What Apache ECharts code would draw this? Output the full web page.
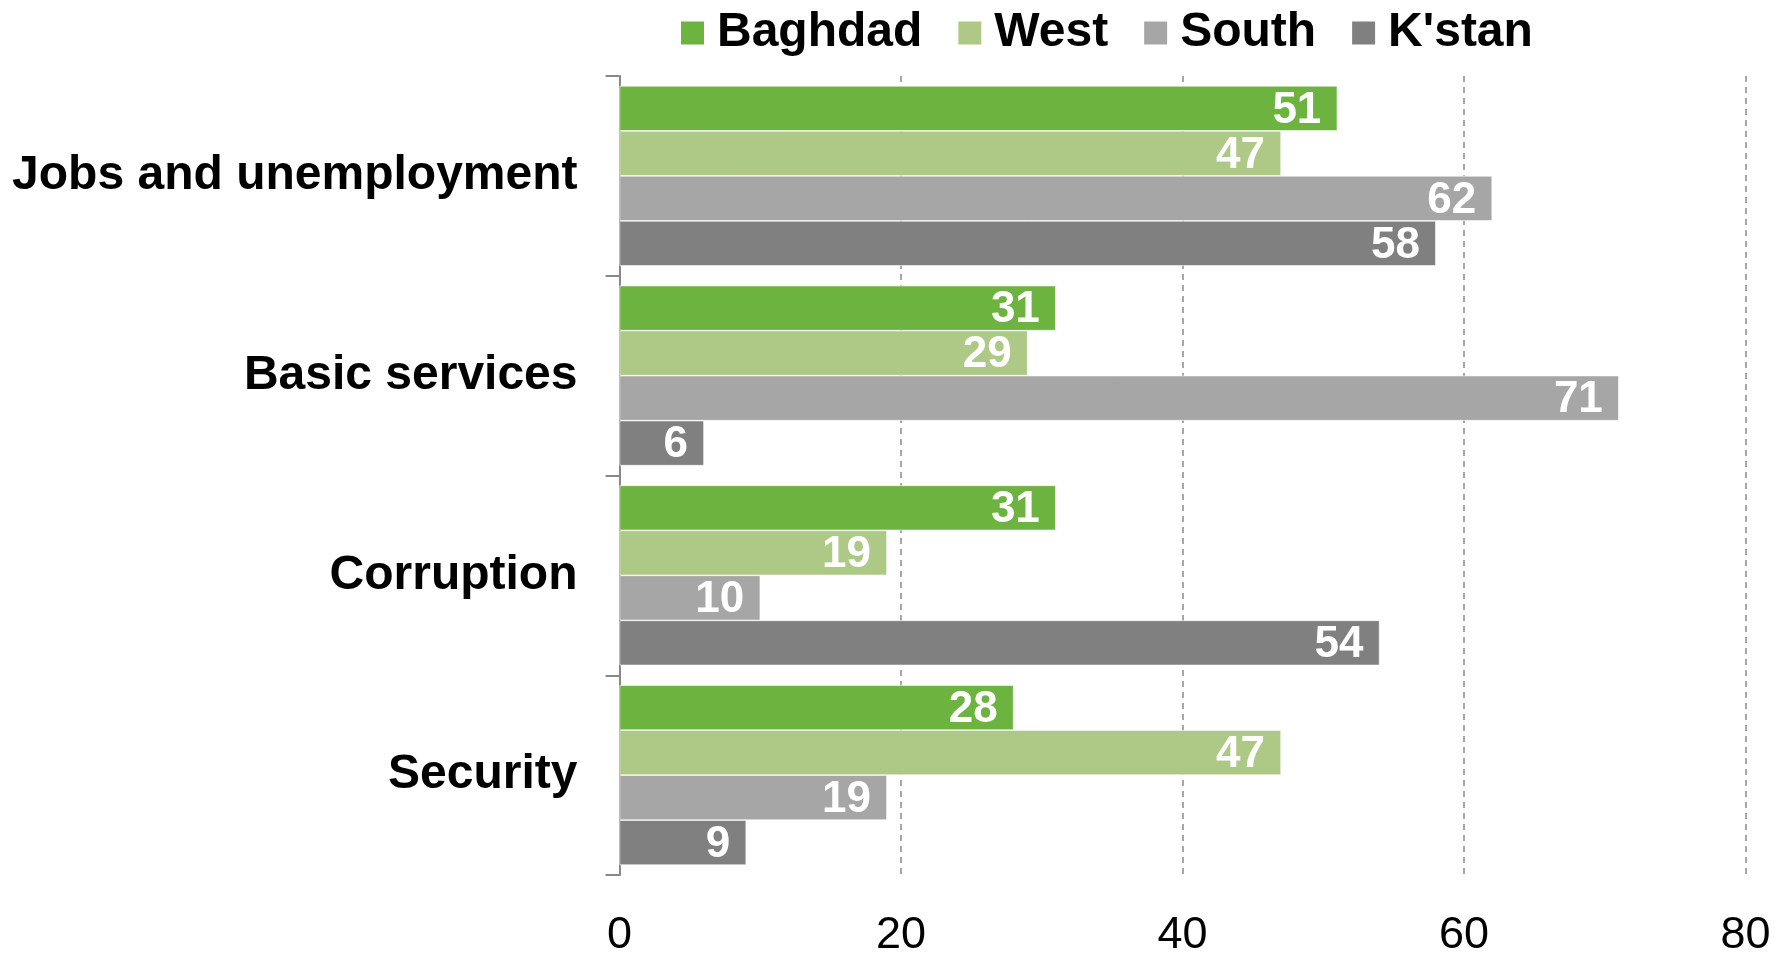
<!DOCTYPE html>
<html>
<head>
<meta charset="utf-8">
<script src="https://cdn.jsdelivr.net/npm/echarts@6/dist/echarts.min.js"></script>
<style>
  html, body { margin: 0; padding: 0; background: #fff; }
  #chart { width: 1789px; height: 958px; }
</style>
</head>
<body>
<div id="chart"></div>
<script>
// categories, top to bottom
var categories = ["Jobs and unemployment", "Basic services", "Corruption", "Security"];
var regions = ["Baghdad", "West", "South", "K'stan"];
var baghdad = [51, 31, 31, 28];
var west = [47, 29, 19, 47];
var south = [62, 71, 10, 19];
var kstan = [58, 6, 54, 9];
var xTicks = [0, 20, 40, 60, 80];

var colors = ["#6db33f", "#aec886", "#a6a6a6", "#808080"];
var font = "'Liberation Sans', Arial, sans-serif";

function barSeries(name, values, color) {
  return {
    name: name,
    type: "bar",
    data: values,
    barWidth: 45,
    barGap: "0%",
    itemStyle: { color: color, borderColor: "#ffffff", borderWidth: 0.6 },
    label: {
      show: true,
      position: "insideRight",
      distance: 16,
      offset: [0, 2],
      color: "#ffffff",
      fontFamily: font,
      fontWeight: "bold",
      fontSize: 44
    },
    emphasis: { disabled: true }
  };
}

var myChart = echarts.init(document.getElementById("chart"));
myChart.setOption({
  animation: false,
  legend: {
    data: regions,
    left: 674,
    top: 4,
    itemWidth: 25,
    itemHeight: 25,
    itemGap: 34,
    icon: "rect",
    textStyle: {
      fontFamily: font,
      fontWeight: "bold",
      fontSize: 48,
      color: "#000",
      padding: [0, 0, 0, 7]
    }
  },
  grid: {
    left: 619.5,
    right: 43.5,
    top: 76,
    bottom: 81
  },
  xAxis: {
    type: "value",
    min: xTicks[0],
    max: xTicks[xTicks.length - 1],
    interval: 20,
    axisLine: { show: false },
    axisTick: { show: false },
    splitLine: {
      show: true,
      lineStyle: { color: "#8a8a8a", type: [6, 5], width: 1.5 }
    },
    axisLabel: {
      color: "#000",
      fontFamily: font,
      fontSize: 45,
      margin: 38
    }
  },
  yAxis: {
    type: "category",
    data: categories,
    inverse: true,
    axisLine: { show: true, lineStyle: { color: "#898989", width: 2 } },
    axisTick: { show: true, length: 14, lineStyle: { color: "#898989", width: 2 } },
    axisLabel: {
      color: "#000",
      fontFamily: font,
      fontWeight: "bold",
      fontSize: 48,
      margin: 42,
      padding: [8, 0, 0, 0]
    }
  },
  series: [
    barSeries(regions[0], baghdad, colors[0]),
    barSeries(regions[1], west, colors[1]),
    barSeries(regions[2], south, colors[2]),
    barSeries(regions[3], kstan, colors[3])
  ]
});
</script>
</body>
</html>
